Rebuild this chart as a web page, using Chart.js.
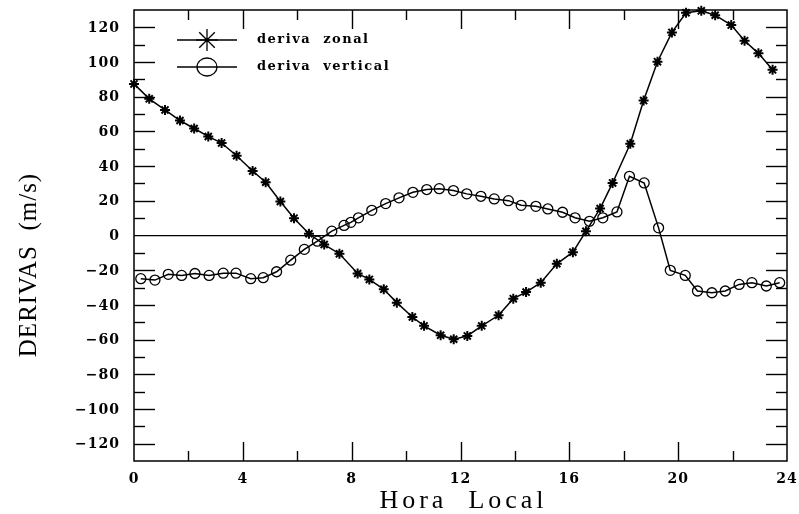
<!DOCTYPE html>
<html>
<head>
<meta charset="utf-8">
<script src="https://cdn.jsdelivr.net/npm/chart.js@4"></script>
<style>
  html, body { margin: 0; padding: 0; background: #fff; }
  #wrap { width: 799px; height: 514px; }
</style>
</head>
<body>
<div id="wrap"><canvas id="myChart"></canvas></div>
<script>
// deriva zonal (asteriscos)
const zonalHours = [0, 0.56, 1.14, 1.69, 2.21, 2.73, 3.22, 3.77, 4.36, 4.84, 5.38, 5.88, 6.43, 6.99, 7.55,
  8.22, 8.65, 9.18, 9.66, 10.23, 10.66, 11.27, 11.75, 12.25, 12.78, 13.4, 13.94, 14.41, 14.95, 15.54,
  16.13, 16.61, 17.13, 17.59, 18.24, 18.73, 19.24, 19.77, 20.29, 20.85, 21.36, 21.95, 22.44, 22.95, 23.47];
const zonalValues = [87.4, 78.8, 72.4, 66.3, 61.7, 57.1, 53.3, 46, 37.2, 30.7, 19.6, 10, 1, -5.2, -10.5,
  -21.9, -25.3, -31, -38.7, -47, -52.1, -57.5, -59.8, -57.9, -52.1, -46, -36.4, -32.6, -27.2, -16.3,
  -9.6, 2.4, 15.5, 30.3, 52.9, 77.8, 100.2, 117.1, 128.4, 129.5, 127, 121.3, 112.3, 105, 95.5];

// deriva vertical (circulos)
const vertHours = [0.25, 0.77, 1.26, 1.75, 2.24, 2.76, 3.28, 3.75, 4.29, 4.75, 5.24, 5.76, 6.26, 6.74, 7.27,
  7.72, 7.97, 8.25, 8.74, 9.25, 9.74, 10.25, 10.76, 11.22, 11.74, 12.23, 12.75, 13.24, 13.76, 14.23,
  14.77, 15.21, 15.75, 16.21, 16.74, 17.23, 17.75, 18.21, 18.75, 19.28, 19.71, 20.26, 20.71, 21.24,
  21.73, 22.24, 22.71, 23.24, 23.73];
const vertValues = [-24.9, -25.7, -22.4, -23, -21.9, -23, -21.7, -21.7, -24.9, -24.3, -20.9, -14.2, -8, -3.3, 2.5,
  5.8, 7.6, 10.2, 14.5, 18.4, 21.7, 24.9, 26.5, 27, 25.9, 24, 22.6, 21.1, 20.1, 17.4,
  16.8, 15.3, 13.4, 10.2, 8.2, 10.2, 13.6, 34.1, 30.3, 4.4, -20.1, -23, -32, -33,
  -32, -28.2, -27.2, -29.1, -27.2];

const seriesNames = ['deriva  zonal', 'deriva  vertical'];
const xTickValues = [0, 4, 8, 12, 16, 20, 24];
const yTickValues = [-120, -100, -80, -60, -40, -20, 0, 20, 40, 60, 80, 100, 120];
const xTitle = 'Hora  Local';
const yTitle = 'DERIVAS  (m/s)';

const toPoints = (xs, ys) => xs.map((x, i) => ({ x: x, y: ys[i] }));

function seg(ctx, x1, y1, x2, y2) {
  ctx.beginPath();
  ctx.moveTo(x1, y1);
  ctx.lineTo(x2, y2);
  ctx.stroke();
}

// frame, inward ticks, tick labels, titles and legend
const framePlugin = {
  id: 'frame',
  afterDraw(chart) {
    const ctx = chart.ctx;
    const a = chart.chartArea;
    const xs = chart.scales.x, ys = chart.scales.y;
    ctx.save();
    ctx.setLineDash([]);
    ctx.globalAlpha = 1;
    ctx.strokeStyle = '#000';
    ctx.fillStyle = '#000';
    ctx.lineWidth = 1.5;
    ctx.strokeRect(a.left, a.top, a.right - a.left, a.bottom - a.top);

    ctx.lineWidth = 1.4;
    for (let h = 2; h < 24; h += 2) {
      const px = Math.round(xs.getPixelForValue(h)) + 0.5;
      const len = h % 4 === 0 ? 19 : 10;
      seg(ctx, px, a.bottom, px, a.bottom - len);
      seg(ctx, px, a.top, px, a.top + len);
    }
    for (let v = -120; v <= 120; v += 10) {
      if (v === 0) continue;
      const py = Math.round(ys.getPixelForValue(v)) + 0.5;
      const len = v % 20 === 0 ? 21 : 11;
      seg(ctx, a.left, py, a.left + len, py);
      seg(ctx, a.right, py, a.right - len, py);
    }

    // tick labels
    ctx.font = 'bold 14px "DejaVu Serif"';
    ctx.letterSpacing = '1px';
    ctx.textBaseline = 'middle';
    ctx.textAlign = 'right';
    yTickValues.forEach(v => {
      const label = v < 0 ? '\u2212' + Math.abs(v) : String(v);
      ctx.fillText(label, a.left - 14, ys.getPixelForValue(v) + 1);
    });
    ctx.textAlign = 'center';
    xTickValues.forEach(h => {
      ctx.fillText(String(h), xs.getPixelForValue(h), 479);
    });

    // axis titles
    ctx.font = '26px "Liberation Serif"';
    ctx.letterSpacing = '4px';
    ctx.textBaseline = 'alphabetic';
    ctx.fillText(xTitle, (a.left + a.right) / 2 + 3, 508);
    ctx.save();
    ctx.translate(36, 265);
    ctx.rotate(-Math.PI / 2);
    ctx.font = '25px "Liberation Serif"';
    ctx.letterSpacing = '1px';
    ctx.fillText(yTitle, 0, 0);
    ctx.restore();

    // legend
    const rows = [
      { y: 40, style: 'star' },
      { y: 67, style: 'circle' }
    ];
    ctx.font = 'bold 13px "DejaVu Serif"';
    ctx.letterSpacing = '1.5px';
    ctx.textAlign = 'left';
    ctx.textBaseline = 'middle';
    rows.forEach((r, i) => {
      ctx.lineWidth = 1.3;
      seg(ctx, 177, r.y, 237, r.y);
      if (r.style === 'star') {
        for (let k = 0; k < 4; k++) {
          const ang = k * Math.PI / 4;
          const dx = Math.cos(ang) * 11, dy = Math.sin(ang) * 11;
          seg(ctx, 207 - dx, r.y - dy, 207 + dx, r.y + dy);
        }
        ctx.beginPath(); ctx.arc(207, r.y, 2, 0, Math.PI * 2); ctx.fill();
      } else {
        ctx.beginPath();
        ctx.ellipse(207, r.y, 10, 9, 0, 0, Math.PI * 2);
        ctx.stroke();
      }
      ctx.fillText(seriesNames[i], 257, r.y);
    });
    ctx.restore();
  }
};

const data = {
  datasets: [
    {
      label: seriesNames[0],
      data: toPoints(zonalHours, zonalValues),
      borderColor: '#000',
      borderWidth: 1.5,
      pointStyle: 'star',
      pointRadius: 5,
      pointBorderWidth: 2,
      pointBorderColor: '#000',
      pointBackgroundColor: '#000',
      tension: 0,
      clip: false
    },
    {
      label: seriesNames[1],
      data: toPoints(vertHours, vertValues),
      borderColor: '#000',
      borderWidth: 1.5,
      pointStyle: 'circle',
      pointRadius: 5,
      pointBorderWidth: 1.3,
      pointBorderColor: '#000',
      pointBackgroundColor: 'rgba(255,255,255,0)',
      tension: 0,
      clip: false
    }
  ]
};

const config = {
  type: 'line',
  data: data,
  options: {
    responsive: true,
    maintainAspectRatio: false,
    animation: false,
    layout: { padding: { left: 134, right: 12, top: 10, bottom: 53 } },
    scales: {
      x: {
        type: 'linear',
        min: 0,
        max: 24,
        border: { display: false },
        grid: { display: false, drawTicks: false },
        ticks: { display: false }
      },
      y: {
        min: -130,
        max: 130,
        border: { display: false },
        grid: {
          drawTicks: false,
          lineWidth: 1.3,
          color: c => (c.tick && c.tick.value === 0 ? '#000' : 'rgba(0,0,0,0)')
        },
        ticks: { display: false, stepSize: 10 }
      }
    },
    plugins: {
      legend: { display: false },
      tooltip: { enabled: false }
    }
  },
  plugins: [framePlugin]
};

const ctx = document.getElementById('myChart');
const myChart = new Chart(ctx, config);
</script>
</body>
</html>
